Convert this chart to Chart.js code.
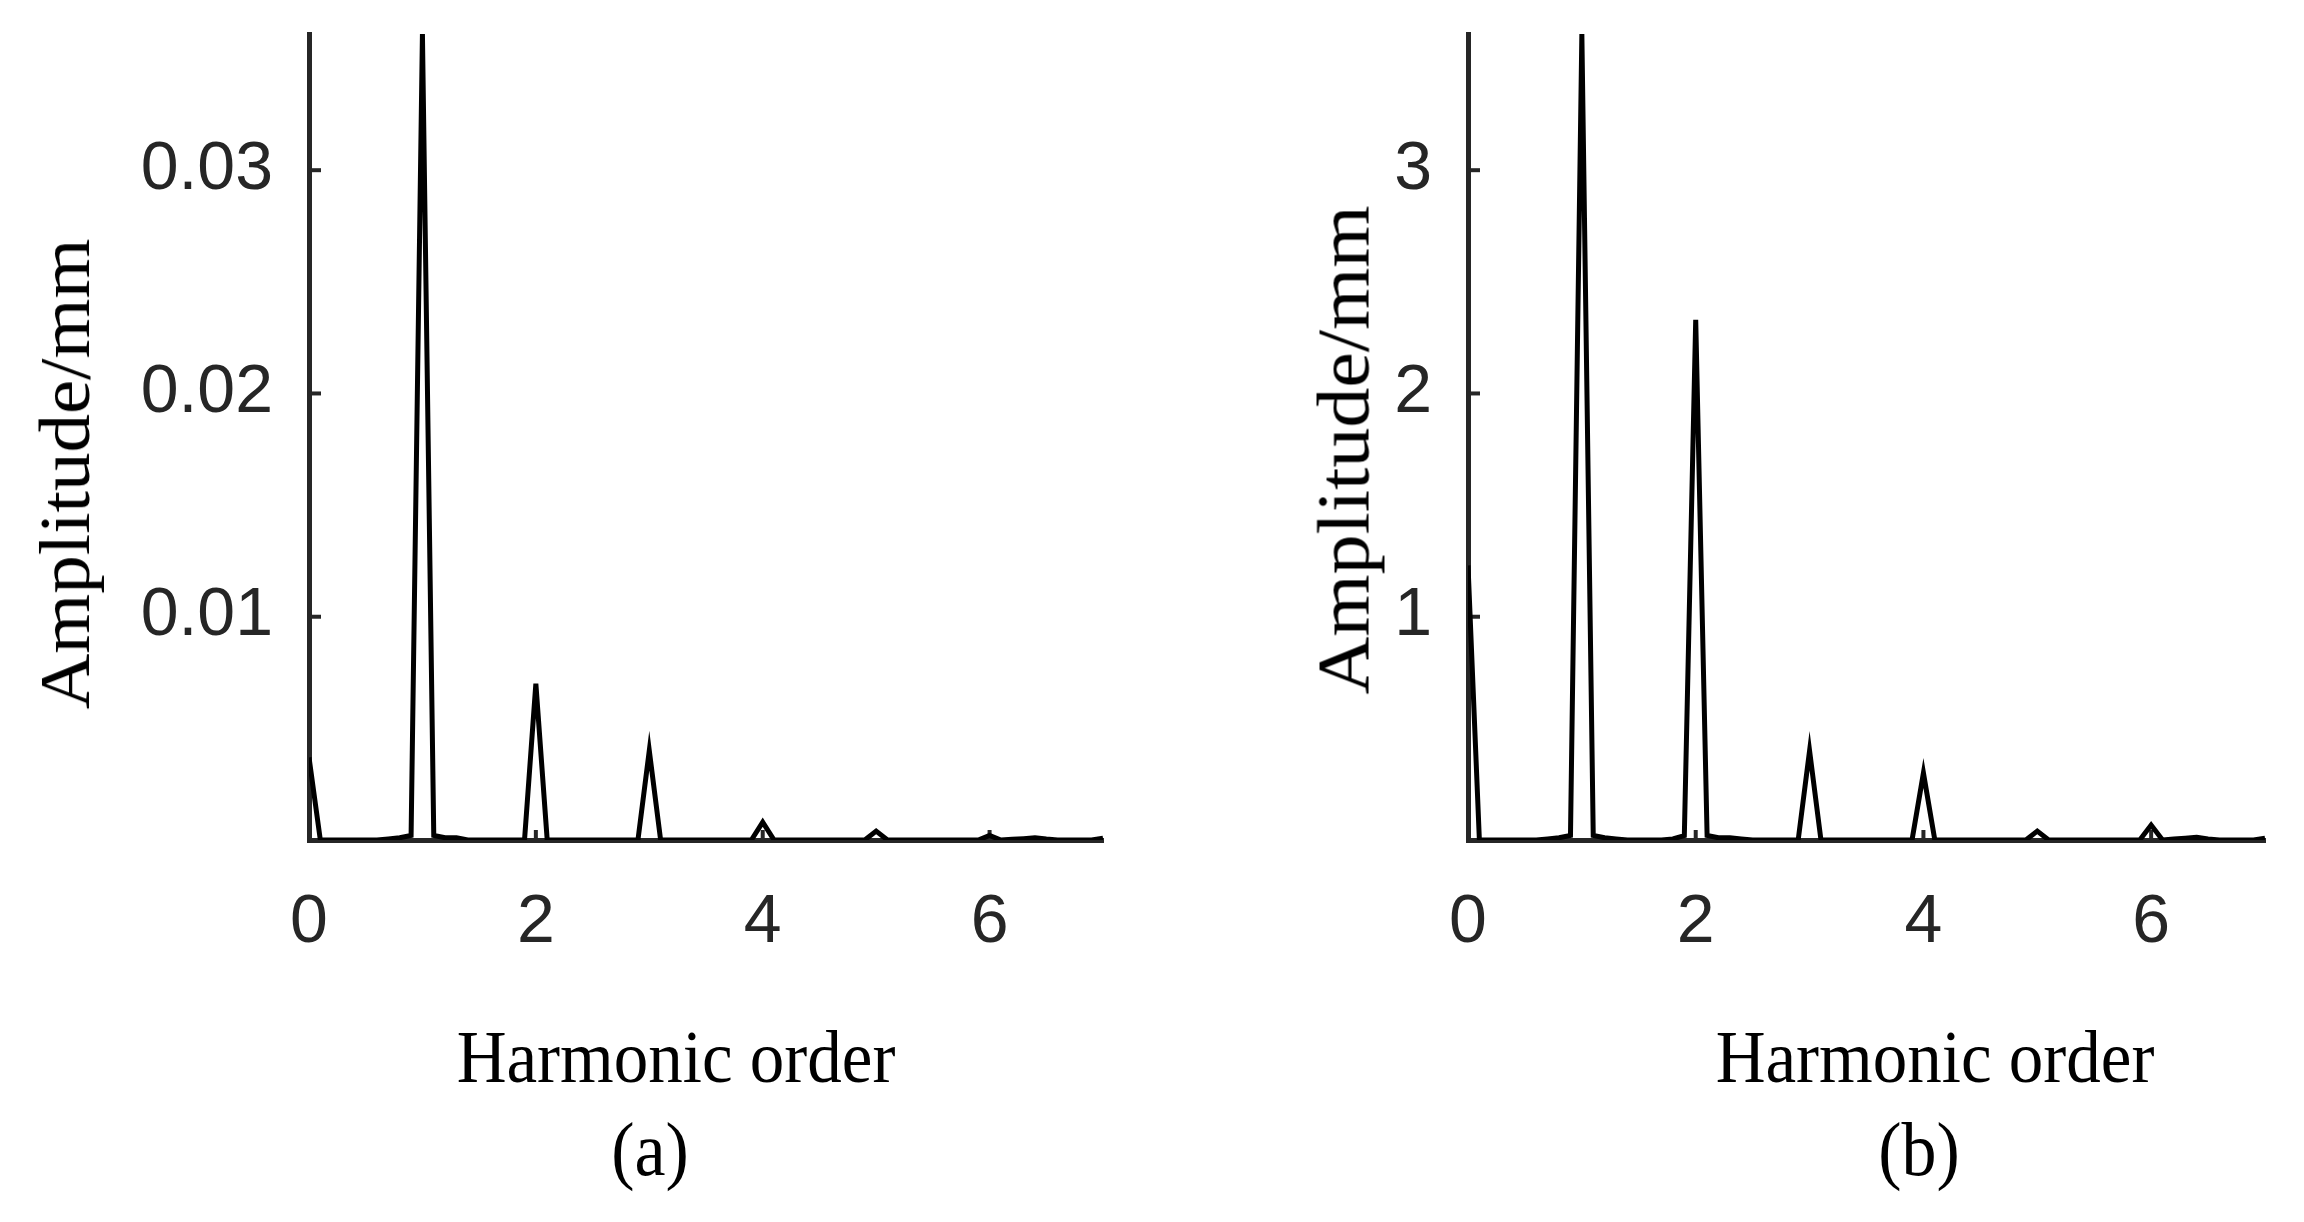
<!DOCTYPE html>
<html>
<head>
<meta charset="utf-8">
<script src="https://cdn.jsdelivr.net/npm/chart.js@4/dist/chart.umd.min.js"></script>
<style>
  html, body { margin:0; padding:0; background:#fff; }
  body { width:2304px; height:1222px; position:relative; overflow:hidden; }
  canvas { position:absolute; top:0; }
  .lbl { position:absolute; font-family:'Liberation Serif','Times New Roman',serif; color:#000; line-height:1; white-space:nowrap; transform:translate(-50%,-50%) scaleX(0.92); }
  .rot { transform:translate(-50%,-50%) rotate(-90deg) scaleY(0.92); }
</style>
</head>
<body>
<canvas id="chartA" width="1152" height="1000" style="left:0px"></canvas>
<canvas id="chartB" width="1152" height="1000" style="left:1152px"></canvas>
<div class="lbl rot" style="left:66px; top:474px; font-size:77px;">Amplitude/mm</div>
<div class="lbl rot" style="left:1344px; top:450px; font-size:80px;">Amplitude/mm</div>
<div class="lbl" style="left:676px; top:1056px; font-size:75px;">Harmonic order</div>
<div class="lbl" style="left:1935px; top:1056px; font-size:75px;">Harmonic order</div>
<div class="lbl" style="left:650px; top:1149px; font-size:76px;">(a)</div>
<div class="lbl" style="left:1919px; top:1149px; font-size:76px;">(b)</div>
<script>
// ---- data ----
const harmonicOrder = [
  0.0, 0.1, 0.2, 0.3, 0.4, 0.5, 0.6, 0.7, 0.8, 0.9,
  1.0, 1.1, 1.2, 1.3, 1.4, 1.5, 1.6, 1.7, 1.8, 1.9,
  2.0, 2.1, 2.2, 2.3, 2.4, 2.5, 2.6, 2.7, 2.8, 2.9,
  3.0, 3.1, 3.2, 3.3, 3.4, 3.5, 3.6, 3.7, 3.8, 3.9,
  4.0, 4.1, 4.2, 4.3, 4.4, 4.5, 4.6, 4.7, 4.8, 4.9,
  5.0, 5.1, 5.2, 5.3, 5.4, 5.5, 5.6, 5.7, 5.8, 5.9,
  6.0, 6.1, 6.2, 6.3, 6.4, 6.5, 6.6, 6.7, 6.8, 6.9,
  7.0
];
const amplitudeA = [
  0.0037, 0, 0, 0, 0, 0, 0, 0.00005, 0.0001, 0.0002,
  0.0361, 0.0002, 0.0001, 0.0001, 0, 0, 0, 0, 0, 0,
  0.0070, 0, 0, 0, 0, 0, 0, 0, 0, 0,
  0.0040, 0, 0, 0, 0, 0, 0, 0, 0, 0,
  0.0008, 0, 0, 0, 0, 0, 0, 0, 0, 0,
  0.0004, 0, 0, 0, 0, 0, 0, 0, 0, 0,
  0.0002, 0, 0.00003, 0.00006, 0.0001, 0.00004, 0, 0, 0, 0,
  0.00008
];
const amplitudeB = [
  1.23, 0, 0, 0, 0, 0, 0, 0.005, 0.01, 0.02,
  3.61, 0.02, 0.01, 0.005, 0, 0, 0, 0, 0.005, 0.02,
  2.33, 0.02, 0.01, 0.01, 0.005, 0, 0, 0, 0, 0,
  0.40, 0, 0, 0, 0, 0, 0, 0, 0, 0,
  0.30, 0, 0, 0, 0, 0, 0, 0, 0, 0,
  0.04, 0, 0, 0, 0, 0, 0, 0, 0, 0,
  0.067, 0, 0.004, 0.008, 0.012, 0.005, 0, 0, 0, 0,
  0.008
];
const xTicks = [0, 2, 4, 6];
const xTickLabels = ['0', '2', '4', '6'];
const yTicksA = [0.01, 0.02, 0.03];
const yTickLabelsA = ['0.01', '0.02', '0.03'];
const yTicksB = [1, 2, 3];
const yTickLabelsB = ['1', '2', '3'];
const xRange = [0, 7];
const yRangeA = [0, 0.0361];
const yRangeB = [0, 3.61];

// ---- drawing ----
Chart.defaults.font.family = "'Liberation Sans', Arial, sans-serif";
Chart.defaults.color = '#262626';

const AXIS_COLOR = '#262626';

const inwardTicks = {
  id: 'inwardTicks',
  beforeDatasetsDraw(chart) {
    const { ctx, chartArea } = chart;
    const x = chart.scales.x, y = chart.scales.y;
    ctx.save();
    ctx.strokeStyle = AXIS_COLOR;
    ctx.lineWidth = 4;
    y.ticks.forEach(t => {
      const py = y.getPixelForValue(t.value);
      ctx.beginPath(); ctx.moveTo(chartArea.left, py); ctx.lineTo(chartArea.left + 12, py); ctx.stroke();
    });
    x.ticks.forEach(t => {
      const px = x.getPixelForValue(t.value);
      ctx.beginPath(); ctx.moveTo(px, chartArea.bottom); ctx.lineTo(px, chartArea.bottom - 10); ctx.stroke();
    });
    ctx.restore();
  }
};

function makeChart(id, values, yRange, yTicks, yLabels, yAxisWidth, rightPad) {
  const pts = harmonicOrder.map((h, i) => ({ x: h, y: values[i] }));
  return new Chart(document.getElementById(id), {
    type: 'line',
    data: { datasets: [{
      data: pts,
      borderColor: '#000',
      borderWidth: 5,
      pointRadius: 0,
      tension: 0,
      fill: false
    }] },
    options: {
      responsive: false,
      animation: false,
      events: [],
      layout: { padding: { left: 0, top: 34, right: rightPad, bottom: 0 } },
      plugins: { legend: { display: false }, tooltip: { enabled: false } },
      scales: {
        x: {
          type: 'linear',
          min: xRange[0], max: xRange[1],
          afterBuildTicks: s => { s.ticks = xTicks.map(v => ({ value: v })); },
          afterFit: s => { s.height = 160; s.paddingLeft = 0; s.paddingRight = 0; },
          grid: { display: true, drawOnChartArea: false, drawTicks: false },
          border: { display: true, color: AXIS_COLOR, width: 5 },
          ticks: {
            padding: 42,
            autoSkip: false,
            maxRotation: 0,
            font: { size: 68 },
            color: AXIS_COLOR,
            callback: (v, i) => xTickLabels[i]
          }
        },
        y: {
          type: 'linear',
          min: yRange[0], max: yRange[1],
          afterBuildTicks: s => { s.ticks = yTicks.map(v => ({ value: v })); },
          afterFit: s => { s.width = yAxisWidth; s.paddingTop = 0; s.paddingBottom = 0; },
          grid: { display: true, drawOnChartArea: false, drawTicks: false },
          border: { display: true, color: AXIS_COLOR, width: 5 },
          ticks: {
            padding: 36,
            autoSkip: false,
            font: { size: 68 },
            color: AXIS_COLOR,
            callback: (v, i) => yLabels[i]
          }
        }
      }
    },
    plugins: [inwardTicks]
  });
}

makeChart('chartA', amplitudeA, yRangeA, yTicksA, yTickLabelsA, 309, 49);
makeChart('chartB', amplitudeB, yRangeB, yTicksB, yTickLabelsB, 316, 39);
</script>
</body>
</html>
